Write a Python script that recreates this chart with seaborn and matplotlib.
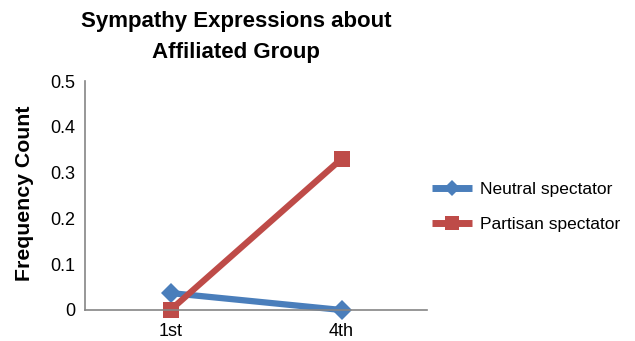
import matplotlib
matplotlib.use("Agg")
import matplotlib.pyplot as plt
import seaborn as sns
import pandas as pd

# Data
rounds = ["1st", "4th"]
neutral = [0.037, 0.0]
partisan = [0.0, 0.33]
series_names = ["Neutral spectator", "Partisan spectator"]
y_ticks = [0, 0.1, 0.2, 0.3, 0.4, 0.5]
y_tick_labels = ["0", "0.1", "0.2", "0.3", "0.4", "0.5"]

df = pd.DataFrame({
    "Round": rounds * 2,
    "Frequency": neutral + partisan,
    "Group": [series_names[0]] * len(rounds) + [series_names[1]] * len(rounds),
})
df["x"] = df["Round"].map({r: i for i, r in enumerate(rounds)})

sns.set_style("white")
plt.rcParams["font.family"] = ["Liberation Sans", "DejaVu Sans"]
plt.rcParams["text.color"] = "black"
plt.rcParams["xtick.color"] = "black"
plt.rcParams["ytick.color"] = "black"

fig = plt.figure(figsize=(6.35, 3.41), dpi=100)
ax = fig.add_axes([85 / 635, 1 - 310 / 341, (427 - 85) / 635, (310 - 81) / 341])

palette = {series_names[0]: "#4A7EBB", series_names[1]: "#BE4B48"}
sns.lineplot(
    data=df, x="x", y="Frequency", hue="Group", style="Group",
    markers={series_names[0]: "D", series_names[1]: "s"}, dashes=False,
    palette=palette, linewidth=4.5, markersize=12, markeredgewidth=0,
    ax=ax, legend=True,
)
# the diamond needs a little less size to look as big as the square
for line in ax.get_lines():
    if line.get_marker() == "D":
        line.set_markersize(10.5)
    line.set_solid_capstyle("butt")
    line.set_solid_joinstyle("miter")

ax.set_xlim(-0.5, 1.5)
ax.set_ylim(0, 0.5)
ax.set_xticks(range(len(rounds)))
ax.set_xticklabels(rounds, fontsize=13)
ax.set_yticks(y_ticks)
ax.set_yticklabels(y_tick_labels, fontsize=13)
ax.tick_params(axis="y", length=0, pad=7)
ax.tick_params(axis="x", length=0, pad=9)
ax.set_xlabel("")
ax.set_ylabel("")

for side in ["top", "right"]:
    ax.spines[side].set_visible(False)
for side in ["left", "bottom"]:
    ax.spines[side].set_color("#858585")
    ax.spines[side].set_linewidth(1.2)
for line in ax.get_lines():
    line.set_clip_on(False)

fig.text(25 / 635, 1 - 193 / 341, "Frequency Count", rotation=90,
         ha="center", va="center", fontsize=15.3, fontweight="bold")
fig.text(236 / 635, 1 - 37 / 341, "Sympathy Expressions about\nAffiliated Group",
         ha="center", va="center", fontsize=16, fontweight="bold",
         linespacing=1.6)

handles, labels = ax.get_legend_handles_labels()
for h in handles:
    h.set_linewidth(5)
    if h.get_marker() == "D":
        h.set_markersize(8)
    else:
        h.set_markersize(10)
ax.legend(handles, labels, loc="center left", bbox_to_anchor=(425 / 635, 1 - 207 / 341),
          bbox_transform=fig.transFigure, frameon=False, fontsize=12.5,
          handlelength=2.3, handletextpad=0.45, labelspacing=1.1, borderaxespad=0)

fig.savefig("out.png", dpi=100)
